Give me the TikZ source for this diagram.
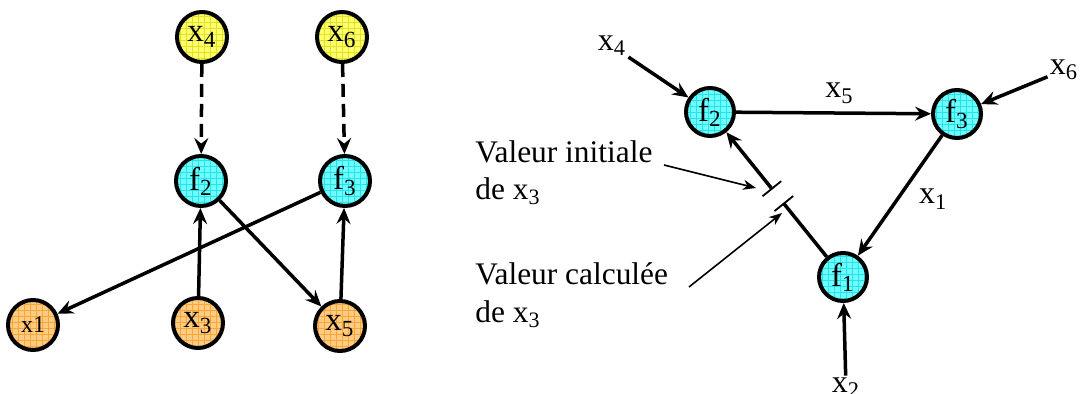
\documentclass[tikz,border=0pt]{standalone}
\usepackage{fontspec}
\setmainfont{Liberation Serif}
\usetikzlibrary{arrows.meta,patterns,calc}
\definecolor{yfill}{RGB}{255,255,110}
\definecolor{ygrid}{RGB}{225,225,40}
\definecolor{cfill}{RGB}{110,255,255}
\definecolor{cgrid}{RGB}{40,225,235}
\definecolor{ofill}{RGB}{255,205,130}
\definecolor{ogrid}{RGB}{250,165,60}
\begin{document}
\begin{tikzpicture}[x=0.5pt,y=-0.5pt,
  circ/.style={circle,draw=black,line width=2pt,minimum size=25pt,inner sep=0pt,
    font=\fontsize{16.5}{18}\selectfont},
  rcirc/.style={circ,minimum size=24pt},
  yel/.style={preaction={fill=yfill},pattern=grid,pattern color=ygrid},
  cya/.style={preaction={fill=cfill},pattern=grid,pattern color=cgrid},
  ora/.style={preaction={fill=ofill},pattern=grid,pattern color=ogrid},
  lbl/.style={inner sep=1pt,font=\fontsize{16}{18}\selectfont},
  txt/.style={inner sep=0pt,anchor=base west,font=\fontsize{15.7}{18}\selectfont},
  link/.style={line width=1.75pt,-{Stealth[length=8pt,width=7pt,inset=2.8pt]}},
  dlink/.style={link,dash pattern=on 6.5pt off 3.5pt},
  plain/.style={line width=1.75pt},
  thin/.style={line width=0.8pt,-{Stealth[length=6.5pt,width=5pt,inset=2pt]}},
  bar/.style={line width=0.9pt}
]
\useasboundingbox (0,0) rectangle (1080,394);

% ---------- left graph ----------
\node[circ,yel] (x4) at (202,37) {x\textsubscript{4}};
\node[circ,yel] (x6) at (342,37) {x\textsubscript{6}};
\node[circ,cya] (f2) at (201,181) {f\textsubscript{2}};
\node[circ,cya] (f3) at (345,181) {f\textsubscript{3}};
\node[circ,ora,font=\fontsize{12}{14}\selectfont] (x1) at (33,325) {x1};
\node[circ,ora] (x3) at (198,323) {x\textsubscript{3}};
\node[circ,ora] (x5) at (340,326) {x\textsubscript{5}};

\draw[dlink] (x4) -- (f2);
\draw[dlink] (x6) -- (f3);
\draw[link] (x3) -- (f2);
\draw[link] (x5) -- (f3);
\draw[link] (f2) -- (x5);
\draw[link] (f3) -- (x1);

% ---------- right graph ----------
\node[rcirc,cya] (rf2) at (710,112) {f\textsubscript{2}};
\node[rcirc,cya] (rf3) at (957,114) {f\textsubscript{3}};
\node[rcirc,cya] (rf1) at (843,277) {f\textsubscript{1}};

\node[lbl] (rx4) at (612,46) {x\textsubscript{4}};
\node[lbl] (rx6) at (1064,70) {x\textsubscript{6}};
\node[lbl] (rx2) at (846,388) {x\textsubscript{2}};

\draw[link] (rx4) -- (rf2);
\draw[link] (rx6) -- (rf3);
\draw[link] (rx2) -- (rf1);
\draw[link] (rf2) -- node[lbl,above=3pt,pos=0.53]{x\textsubscript{5}} (rf3);
\draw[link] (rf3) -- node[lbl,right=9pt,pos=0.53]{x\textsubscript{1}} (rf1);

% break in the f1 -> f2 link
\coordinate (lb) at ($(rf1)!0.445!(rf2)$);
\coordinate (ub) at ($(rf1)!0.535!(rf2)$);
\draw[plain] (rf1) -- (lb);
\draw[link] (ub) -- (rf2);
\draw[bar] ($(lb)!6pt!90:(rf2)$) -- ($(lb)!6pt!-90:(rf2)$);
\draw[bar] ($(ub)!6pt!90:(rf2)$) -- ($(ub)!6pt!-90:(rf2)$);

% annotations
\node[txt] (t1) at (475,163) {Valeur initiale};
\node[txt] (t2) at (475,200) {de x\textsubscript{3}};
\node[txt] (t3) at (475,285) {Valeur calculée};
\node[txt] (t4) at (475,323) {de x\textsubscript{3}};
\coordinate (a1s) at (664,165);
\coordinate (a1e) at (756,188);
\coordinate (a2s) at (689,287);
\coordinate (a2e) at (782,213);
\draw[thin] (a1s) -- (a1e);
\draw[thin] (a2s) -- (a2e);
\end{tikzpicture}
\end{document}
